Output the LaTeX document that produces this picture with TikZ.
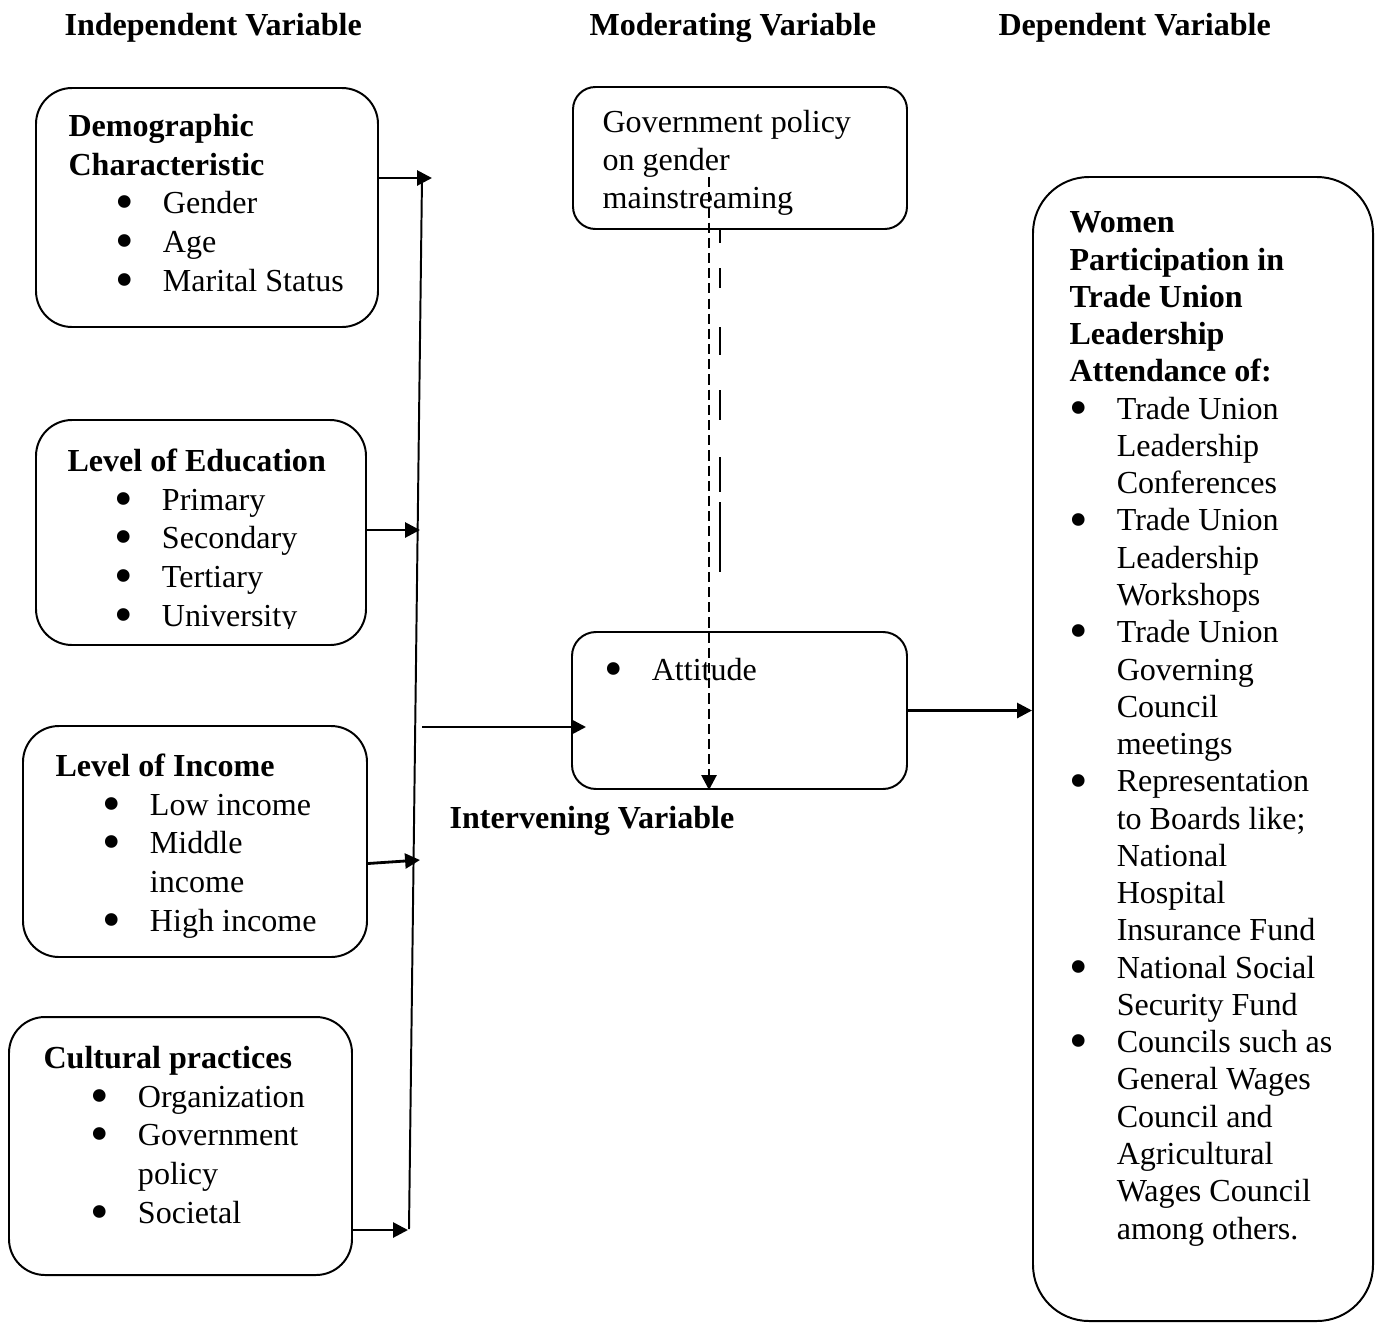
\documentclass[tikz,border=0pt]{standalone}
\usepackage{fontspec}
\setmainfont{Liberation Serif}
\usetikzlibrary{arrows.meta,calc,fit}

\newcommand{\bul}[1]{\makebox[0.59cm][l]{\smash{\raisebox{-2.2pt}{\scalebox{1.65}{\textbullet}}}}#1}
\newcommand{\ind}{\hspace*{0.59cm}}

\begin{document}
\begin{tikzpicture}[x=0.0125cm, y=-0.0125cm,
  box/.style={draw, line width=0.7pt, rounded corners=0.45cm, inner sep=0pt},
  txt/.style={anchor=base west, align=left, inner sep=0pt, font=\fontsize{11.4pt}{13.73pt}\selectfont},
  head/.style={anchor=base west, inner sep=0pt, font=\fontsize{11.4pt}{13.73pt}\selectfont\bfseries},
  arr/.style={line width=1pt, -{Triangle[length=5.3pt,width=5.3pt]}}]
\useasboundingbox (0,0) rectangle (1380,1323);

% Headings
\node[head] (indep) at (64,35) {Independent Variable};
\node[head] (moder) at (589,35) {Moderating Variable};
\node[head] (depen) at (998,35) {Dependent Variable};
\node[head] (inter) at (449,828) {Intervening Variable};

% Independent boxes (text placed by its last baseline)
\node[box, fit={(36,88) (378,327)}] (demo) {};
\node[txt] (demotxt) at (68,291) {\textbf{Demographic}\\\textbf{Characteristic}\\
  \ind\bul{Gender}\\\ind\bul{Age}\\\ind\bul{Marital Status}};

\node[box, fit={(36,420) (366,645)}] (edu) {};
\begin{scope}
\clip (0,400) rectangle (1380,628);
\node[txt] (edutxt) at (67,626) {\textbf{Level of Education}\\
  \ind\bul{Primary}\\\ind\bul{Secondary}\\\ind\bul{Tertiary}\\\ind\bul{University}};
\end{scope}

\node[box, fit={(23,726) (367,957)}] (inc) {};
\node[txt] (inctxt) at (55,931) {\textbf{Level of Income}\\
  \ind\bul{Low income}\\\ind\bul{Middle}\\\ind\ind income\\\ind\bul{High income}};

\node[box, fit={(9,1017) (352,1275)}] (cult) {};
\node[txt] (culttxt) at (43,1223) {\textbf{Cultural practices}\\
  \ind\bul{Organization}\\\ind\bul{Government}\\\ind\ind policy\\\ind\bul{Societal}};

% Moderating and intervening boxes
\node[box, rounded corners=0.28cm, fit={(573,87) (907,229)}] (gov) {};
\node[txt, font=\fontsize{11.4pt}{13.34pt}\selectfont] (govtxt) at (602,208)
  {Government policy\\on gender\\mainstreaming};

\node[box, rounded corners=0.3cm, fit={(572,632) (907,789)}] (att) {};
\node[txt] (atttxt) at (604,680) {\bul{Attitude}};

% Dependent box
\node[box, rounded corners=0.7cm, fit={(1033,177) (1373,1321)}] (women) {};
\node[txt, font=\fontsize{11.4pt}{13.25pt}\selectfont] (womentxt) at (1069,1239)
  {\textbf{Women}\\\textbf{Participation in}\\\textbf{Trade Union}\\\textbf{Leadership}\\
  \textbf{Attendance of:}\\
  \bul{Trade Union}\\\ind Leadership\\\ind Conferences\\
  \bul{Trade Union}\\\ind Leadership\\\ind Workshops\\
  \bul{Trade Union}\\\ind Governing\\\ind Council\\\ind meetings\\
  \bul{Representation}\\\ind to Boards like;\\\ind National\\\ind Hospital\\\ind Insurance Fund\\
  \bul{National Social}\\\ind Security Fund\\
  \bul{Councils such as}\\\ind General Wages\\\ind Council and\\\ind Agricultural\\
  \ind Wages Council\\\ind among others.};

% Collecting line
\coordinate (busN) at (422,178);
\coordinate (busS) at (409,1229);
\draw[line width=0.7pt] (busN) -- (busS);

\coordinate (demotip) at (432,178);
\coordinate (edutip) at (420,530);
\coordinate (inctip) at (420,860);
\coordinate (culttip) at (408,1230);
\draw[arr] (demo.east |- demotip) -- (demotip);
\draw[arr] (edu.east |- edutip) -- (edutip);
\draw[arr] ($(inc.east)+(0,22)$) -- (inctip);
\draw[arr] (cult.east |- culttip) -- (culttip);

% Into and out of attitude
\coordinate (attin) at (422,727);
\draw[arr] (attin) -- ($(att.west |- attin)+(15,0)$);
\draw[arr] (att.east) -- (att.east -| women.west);

% Moderating effect
\coordinate (modtop) at (709,177);
\draw[arr, dash pattern=on 3.6pt off 1.8pt] (modtop) -- (modtop |- att.south);
\foreach \a/\b in {230/243, 268/288, 327/355, 390/420, 457/492, 502/572}
  \draw[line width=0.7pt] (720,\a) -- (720,\b);
\end{tikzpicture}
\end{document}
